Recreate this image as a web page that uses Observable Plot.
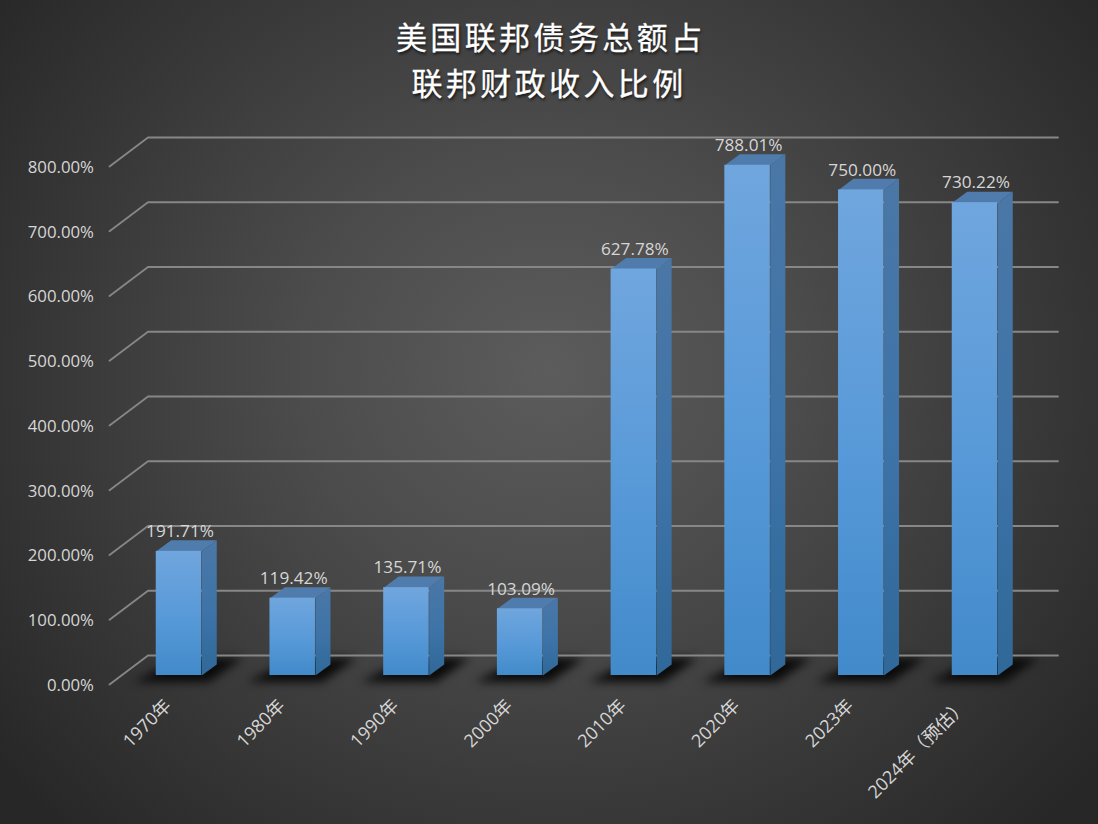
<!DOCTYPE html>
<html lang="zh">
<head>
<meta charset="utf-8">
<script src="https://cdn.jsdelivr.net/npm/d3@7"></script>
<script src="https://cdn.jsdelivr.net/npm/@observablehq/plot@0.6"></script>
<style>
html,body{margin:0;padding:0;width:1098px;height:824px;overflow:hidden;
  background:radial-gradient(ellipse 700px 640px at 549px 370px,#5c5c5c 0%,#4c4c4c 35%,#383838 70%,#272727 100%);}
#title{box-sizing:border-box;width:1098px;height:125px;padding-top:13px;text-align:center;color:#fff;
  font:400 31px/46px "Noto Sans CJK SC",sans-serif;letter-spacing:3.4px;text-indent:3.4px;
  -webkit-text-stroke:0.3px #fff;text-shadow:1px 2px 3px rgba(0,0,0,.75);}
#chart svg{display:block;background:transparent;}
</style>
</head>
<body>
<div id="title">美国联邦债务总额占<br>联邦财政收入比例</div>
<div id="chart"></div>
<script>
const categories = ["1970年","1980年","1990年","2000年","2010年","2020年","2023年","2024年（预估）"];
const values = [191.71,119.42,135.71,103.09,627.78,788.01,750.00,730.22];
const yTicks = [0,100,200,300,400,500,600,700,800];

// 3D projection constants, in data units
const half = 0.2, depthX = 0.132, depthY = 17;
const wallX = -0.2726, floorX = -0.611, wallEnd = 7.73, wallUp = 30.9, floorDown = -13.9;

const bars = values.map((v,i)=>({i,v,label:categories[i]}));
const poly = (fn)=>bars.flatMap(b=>fn(b).map(([x,y])=>({id:b.i,x,y})));

const side = poly(b=>[[b.i+half,0],[b.i+half+depthX,depthY],[b.i+half+depthX,b.v+depthY],[b.i+half,b.v]]);
const top3d = poly(b=>[[b.i-half,b.v],[b.i-half+depthX,b.v+depthY],[b.i+half+depthX,b.v+depthY],[b.i+half,b.v]]);
const shadow = poly(b=>[[b.i-0.4,-10],[b.i+0.26,-10],[b.i+0.56,27],[b.i+0.02,27]]);
const grid = yTicks.flatMap(t=>[[floorX,t+floorDown],[wallX,t+wallUp],[wallEnd,t+wallUp]].map(([x,y])=>({t,x,y})));

const defs = ()=>{
  const s = d3.create("svg:defs");
  const g = (id,stops)=>{
    const l = s.append("linearGradient").attr("id",id).attr("x1",0).attr("y1",0).attr("x2",0).attr("y2",1);
    stops.forEach(([o,c])=>l.append("stop").attr("offset",o).attr("stop-color",c));
  };
  g("front",[[0,"#70a6de"],[0.55,"#5799d8"],[1,"#428aca"]]);
  g("sideFace",[[0,"#4a77a6"],[0.5,"#3f74a8"],[1,"#2f6899"]]);
  return s.node();
};

const chart = Plot.plot({
  width:1098, height:699,
  margin:0,
  x:{axis:null, type:"linear", domain:[0,7], range:[178.5,974.5]},
  y:{axis:null, type:"linear", domain:[0,800], range:[550,32]},
  style:{fontFamily:'"Open Sans","Noto Sans CJK SC",sans-serif', overflow:"visible"},
  marks:[
    defs,
    Plot.line(shadow,{x:"x",y:"y",z:"id",fill:"#0a0a0a",stroke:"none",imageFilter:"blur(5px)"}),
    Plot.line(grid,{x:"x",y:"y",z:"t",stroke:"#878787",strokeWidth:1.8}),
    Plot.line(side,{x:"x",y:"y",z:"id",fill:"url(#sideFace)",stroke:"none"}),
    Plot.line(top3d,{x:"x",y:"y",z:"id",fill:"#4f7cad",stroke:"none"}),
    Plot.rect(bars,{x1:d=>d.i-half,x2:d=>d.i+half,y1:0,y2:"v",fill:"url(#front)"}),
    Plot.text(bars,{x:"i",y:d=>d.v+depthY+13.5,text:d=>d.v.toFixed(2)+"%",fill:"#d6d6d6",fontSize:17.2,lineAnchor:"middle",dx:1}),
    Plot.text(yTicks,{x:()=>-0.7476,y:d=>d+floorDown,text:d=>d.toFixed(2)+"%",fill:"#d6d6d6",fontSize:16.8,textAnchor:"end",lineAnchor:"middle",dy:1}),
    Plot.text(bars,{x:d=>d.i-0.095,y:()=>-42,text:"label",fill:"#d6d6d6",fontSize:18,rotate:-45,textAnchor:"end",lineAnchor:"middle"})
  ]
});
document.getElementById("chart").appendChild(chart);
</script>
</body>
</html>
